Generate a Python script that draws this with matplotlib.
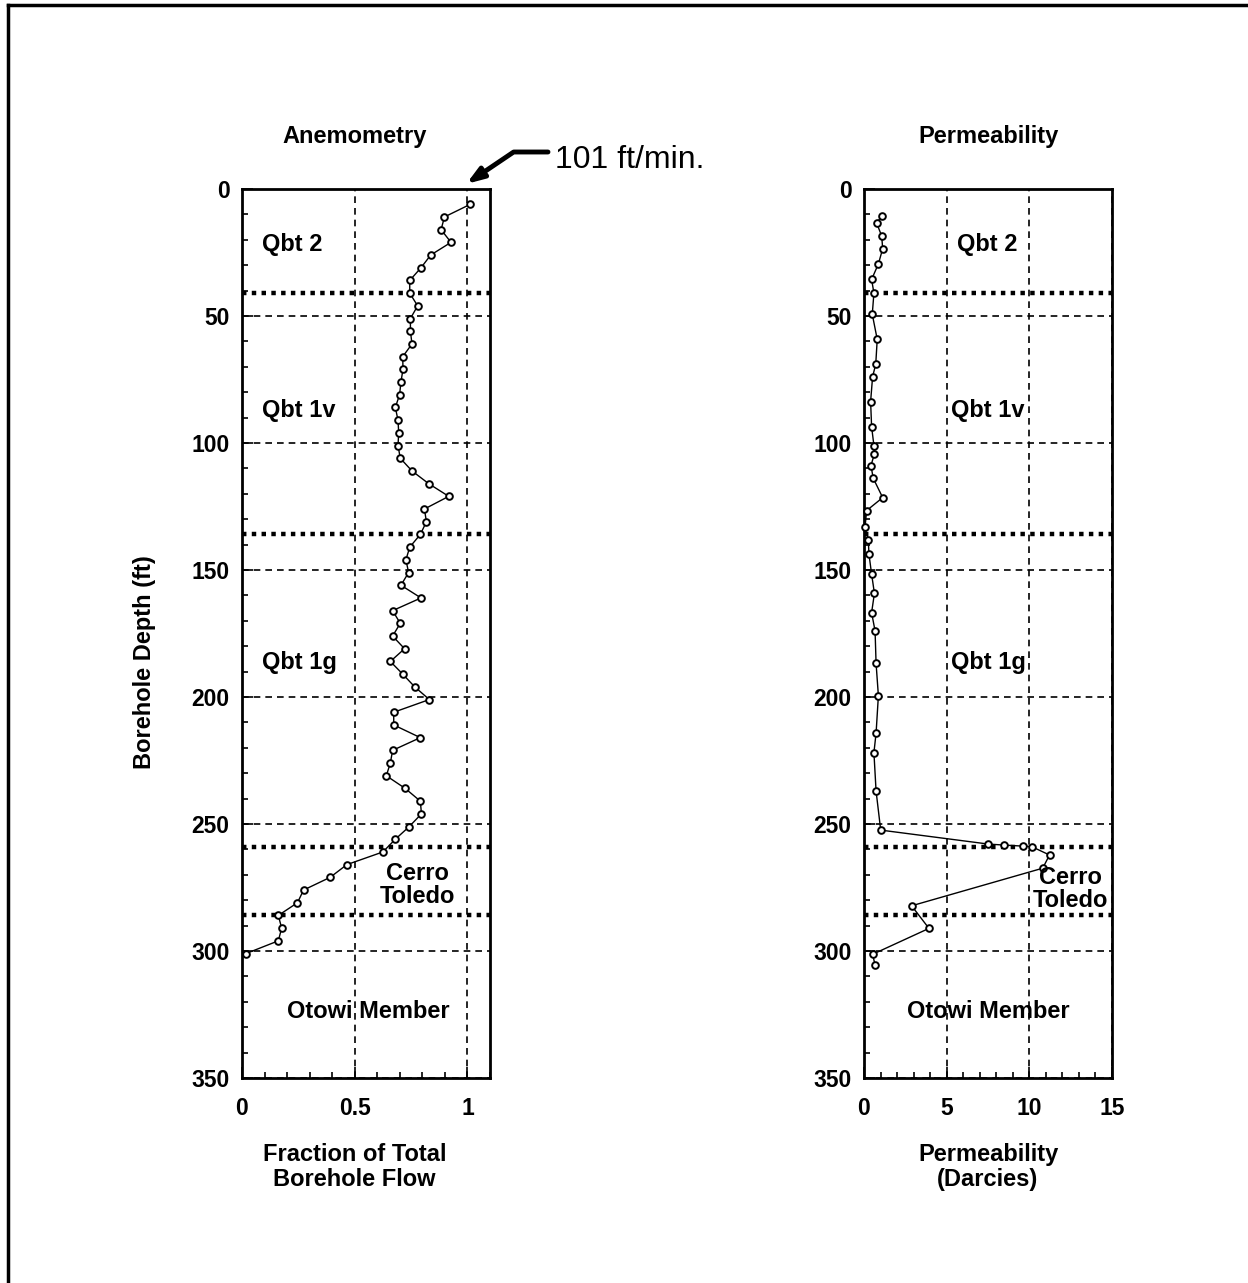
import matplotlib
matplotlib.use("Agg")
import matplotlib.pyplot as plt
from matplotlib.lines import Line2D
from matplotlib.ticker import MultipleLocator
import matplotlib.transforms as mtrans

plt.rcParams['font.family'] = ['Liberation Sans', 'DejaVu Sans']

# anemometry: fraction of total borehole flow vs depth (ft)
anem_depth = [6, 11, 16, 21, 26, 31, 36, 41, 46, 51, 56, 61, 66, 71, 76, 81, 86, 91, 96, 101,
              106, 111, 116, 121, 126, 131, 136, 141, 146, 151, 156, 161, 166, 171, 176, 181,
              186, 191, 196, 201, 206, 211, 216, 221, 226, 231, 236, 241, 246, 251, 256, 261,
              266, 271, 276, 281, 286, 291, 296, 301]
anem_flow = [1.013, 0.898, 0.883, 0.927, 0.837, 0.794, 0.744, 0.744, 0.779, 0.747, 0.747, 0.754,
             0.713, 0.714, 0.705, 0.699, 0.68, 0.692, 0.695, 0.692, 0.702, 0.754, 0.828, 0.917,
             0.809, 0.818, 0.791, 0.744, 0.727, 0.739, 0.705, 0.794, 0.668, 0.702, 0.668, 0.721,
             0.658, 0.713, 0.766, 0.831, 0.673, 0.673, 0.791, 0.668, 0.658, 0.64, 0.724, 0.791,
             0.796, 0.742, 0.68, 0.625, 0.465, 0.391, 0.273, 0.246, 0.161, 0.176, 0.161, 0.018]

# permeability (darcies) vs depth (ft)
perm_depth = [10.5, 13.5, 18.5, 23.5, 29.5, 35.6, 41, 49.3, 59.2, 69, 73.9, 83.7, 93.6, 101,
              104.3, 108.9, 113.9, 121.5, 126.6, 133.2, 138.2, 143.8, 151.6, 159.2, 166.8, 174,
              186.7, 199.5, 214.3, 221.9, 237, 252.4, 257.9, 258.3, 258.7, 258.9, 262.2, 267.4,
              282.2, 291.1, 301.3, 305.5]
perm_val = [1.07, 0.77, 1.07, 1.13, 0.87, 0.46, 0.6, 0.5, 0.8, 0.71, 0.52, 0.4, 0.46, 0.6,
            0.63, 0.42, 0.56, 1.13, 0.16, 0.06, 0.26, 0.3, 0.46, 0.63, 0.46, 0.67,
            0.73, 0.87, 0.73, 0.6, 0.73, 1.01, 7.52, 8.47, 9.6, 10.14, 11.22, 10.81,
            2.88, 3.93, 0.52, 0.67]

# unit boundaries (ft)
contacts = [41, 136, 259, 286]

units = ["Qbt 2", "Qbt 1v", "Qbt 1g", "Cerro\nToledo", "Otowi Member"]
unit_depth = [22, 87.4, 186.6, 274, 324]
anem_unit_x = [0.089, 0.089, 0.089, 0.778, 0.56]
anem_unit_ha = ["left", "left", "left", "center", "center"]
perm_unit_x = [7.45, 7.5, 7.5, 12.5, 7.5]

W, H = 1248, 1283
fig = plt.figure(figsize=(W / 100, H / 100), dpi=100)

ax1 = fig.add_axes([242 / W, 1 - 1078 / H, 248 / W, 889 / H])
ax2 = fig.add_axes([864 / W, 1 - 1078 / H, 248 / W, 889 / H])


def style(ax, xmax, xmajor, xminor):
    ax.set_ylim(350, 0)
    ax.set_xlim(0, xmax)
    ax.yaxis.set_major_locator(MultipleLocator(50))
    ax.yaxis.set_minor_locator(MultipleLocator(10))
    ax.xaxis.set_major_locator(MultipleLocator(xmajor))
    ax.xaxis.set_minor_locator(MultipleLocator(xminor))
    ax.tick_params(which='both', direction='in', width=1.2)
    ax.tick_params(which='major', length=8, labelsize=16.5, pad=9)
    ax.tick_params(axis='x', which='major', pad=14)
    ax.tick_params(which='minor', length=4)
    for t in ax.get_xticklabels() + ax.get_yticklabels():
        t.set_fontweight('bold')
    for s in ax.spines.values():
        s.set_linewidth(2)
    ax.grid(True, which='major', color='black', linestyle=(0, (4, 3)), linewidth=1.2)
    for c in contacts:
        ax.axhline(c, color='black', linewidth=3.2, linestyle=(0, (1, 1.2)), zorder=2)


style(ax1, 1.1, 0.5, 0.1)
style(ax2, 15, 5, 1)
ax1.set_xticks([0, 0.5, 1])
ax1.set_xticklabels(['0', '0.5', '1'], fontweight='bold')

ax1.plot(anem_flow, anem_depth, color='black', linewidth=1, marker='o', markersize=4.8,
         markerfacecolor='white', markeredgewidth=1.4, zorder=4, clip_on=False)
ax2.plot(perm_val, perm_depth, color='black', linewidth=1, marker='o', markersize=4.8,
         markerfacecolor='white', markeredgewidth=1.4, zorder=4, clip_on=False)

for name, d, x, ha in zip(units, unit_depth, anem_unit_x, anem_unit_ha):
    ax1.text(x, d, name, ha=ha, va='center', fontsize=17, fontweight='bold',
             linespacing=0.95, zorder=5)
for name, d, x in zip(units, unit_depth, perm_unit_x):
    ax2.text(x, d + (1.6 if '\n' in name else 0), name, ha='center', va='center', fontsize=17,
             fontweight='bold', linespacing=0.95, zorder=5)

# titles and axis labels
tr1 = mtrans.blended_transform_factory(ax1.transData, fig.transFigure)
tr2 = mtrans.blended_transform_factory(ax2.transAxes, fig.transFigure)
fig.text(0.5, 1 - 137 / H, "Anemometry", transform=tr1, ha='center', va='center',
         fontsize=17, fontweight='bold')
fig.text(0.5, 1 - 137 / H, "Permeability", transform=tr2, ha='center', va='center',
         fontsize=17, fontweight='bold')
fig.text(0.5, 1 - 1167 / H, "Fraction of Total\nBorehole Flow", transform=tr1,
         ha='center', va='center', fontsize=17, fontweight='bold', linespacing=1.1)
fig.text(0.5, 1 - 1167 / H, "Permeability\n(Darcies)", transform=tr2,
         ha='center', va='center', fontsize=17, fontweight='bold', linespacing=1.1)
fig.text(145 / W, 1 - 662 / H, "Borehole Depth (ft)", rotation=90, ha='center',
         va='center', fontsize=17, fontweight='bold')

# arrow to top of anemometry profile
ax1.annotate("", xy=(0.995, -2), xycoords='data',
             xytext=(548 / W, 1 - 152 / H), textcoords='figure fraction',
             annotation_clip=False,
             arrowprops=dict(arrowstyle='-|>,head_length=1.0,head_width=0.35',
                             connectionstyle='angle,angleA=0,angleB=34,rad=0',
                             color='black', linewidth=3.5, shrinkA=0, shrinkB=0))
fig.text(555 / W, 1 - 160 / H, "101 ft/min.", ha='left', va='center', fontsize=23)

# page frame (top and left edges)
fig.add_artist(Line2D([8 / W, 1], [1 - 5 / H, 1 - 5 / H], color='black', linewidth=2.5,
                      transform=fig.transFigure))
fig.add_artist(Line2D([8 / W, 8 / W], [0, 1 - 5 / H], color='black', linewidth=2.5,
                      transform=fig.transFigure))

fig.savefig("out.png", dpi=100, facecolor='white')
